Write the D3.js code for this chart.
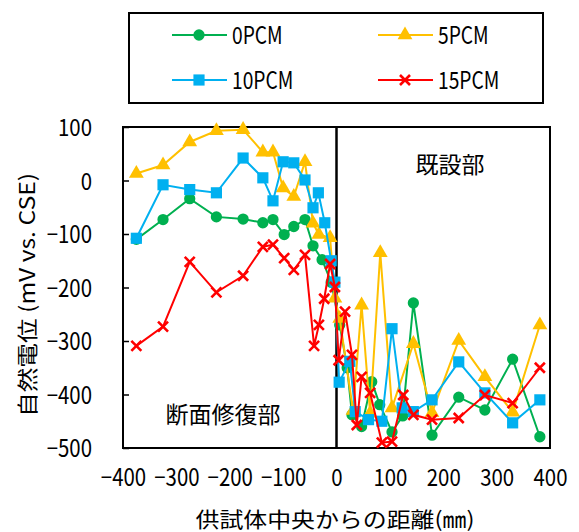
<!DOCTYPE html>
<html>
<head>
<meta charset="utf-8">
<script src="https://cdn.jsdelivr.net/npm/d3@7"></script>
<style>
  body { margin: 0; background: #fff; }
  text { font-family: "Noto Sans CJK JP", "Noto Sans", sans-serif; fill: #000; }
</style>
</head>
<body>
<div id="wrapper"></div>
<script>
// data (distance mm, potential mV)
const seriesNames = ["0PCM", "5PCM", "10PCM", "15PCM"];
const seriesColors = ["#00B050", "#FFC000", "#00B0F0", "#FF0000"];
const seriesMarkers = ["circle", "triangle", "square", "cross"];

const x0 = [-375, -325, -275, -225, -175, -138, -119, -98, -80, -59, -44, -27, -10, 6, 20, 29, 47, 66, 81, 104, 124, 144, 179, 229, 278, 330, 381];
const y0 = [-110, -73, -34, -68, -72, -79, -73, -101, -86, -73, -122, -148, -190, -270, -350, -438, -460, -376, -419, -470, -440, -229, -476, -405, -429, -334, -479];

const x5 = [-375, -325, -275, -225, -175, -138, -119, -100, -80, -59, -44, -33, -12, -3, 6, 31, 47, 63, 82, 104, 144, 179, 229, 278, 330, 381];
const y5 = [13, 29, 72, 93, 95, 53, 53, -14, -30, 35, -80, -101, -107, -220, -258, -430, -233, -435, -135, -425, -305, -434, -299, -367, -433, -270];

const x10 = [-375, -325, -275, -225, -175, -138, -119, -100, -80, -59, -44, -34, -22, -10, -3, 5, 25, 35, 60, 85, 104, 123, 144, 179, 229, 278, 330, 381];
const y10 = [-108, -8, -17, -23, 42, 5, -38, 35, 33, 1, -51, -23, -79, -150, -190, -377, -338, -432, -447, -450, -277, -425, -432, -410, -339, -397, -453, -410];

const x15 = [-375, -325, -275, -225, -175, -138, -119, -98, -80, -59, -42, -33, -23, -12, -3, 4, 16, 29, 38, 47, 63, 85, 104, 125, 144, 179, 229, 278, 330, 381];
const y15 = [-309, -273, -152, -209, -178, -124, -120, -145, -167, -139, -309, -270, -221, -156, -199, -336, -245, -326, -457, -367, -397, -490, -488, -401, -438, -447, -444, -401, -416, -350];

const xTicks = [-400, -300, -200, -100, 0, 100, 200, 300, 400];
const yTicks = [100, 0, -100, -200, -300, -400, -500];

const xData = [x0, x5, x10, x15];
const yData = [y0, y5, y10, y15];

const dim = { width: 579, height: 532, left: 123, right: 550, top: 127, bottom: 448 };

const svg = d3.select("#wrapper").append("svg")
    .attr("width", dim.width)
    .attr("height", dim.height);

const xScaler = d3.scaleLinear().domain([-400, 400]).range([dim.left, dim.right]);
const yScaler = d3.scaleLinear().domain([-500, 100]).range([dim.bottom, dim.top]);

// squeeze text horizontally (narrow gothic look)
function squeeze(sel, k) {
    sel.each(function () {
        const w = this.getComputedTextLength();
        d3.select(this).attr("textLength", w * k).attr("lengthAdjust", "spacingAndGlyphs");
    });
}

// axes
const yAxis = svg.append("g")
    .attr("transform", `translate(${dim.left},0)`)
    .call(d3.axisLeft(yScaler).tickValues(yTicks).tickSizeInner(-6).tickSizeOuter(0).tickPadding(31));
yAxis.select(".domain").remove();
yAxis.selectAll(".tick line").attr("stroke", "#000").attr("stroke-width", 1.5);
yAxis.selectAll("text").attr("font-size", 24).attr("dy", "0.37em").call(squeeze, 0.85);

const xAxis = svg.append("g")
    .attr("transform", `translate(0,${dim.bottom})`)
    .call(d3.axisBottom(xScaler).tickValues(xTicks).tickSize(0).tickPadding(21));
xAxis.select(".domain").remove();
xAxis.selectAll("text").attr("font-size", 24).call(squeeze, 0.85);

// frame and zero line
svg.append("rect")
    .attr("x", dim.left).attr("y", dim.top)
    .attr("width", dim.right - dim.left).attr("height", dim.bottom - dim.top)
    .attr("fill", "none").attr("stroke", "#000").attr("stroke-width", 2);

svg.append("line")
    .attr("x1", xScaler(0)).attr("x2", xScaler(0))
    .attr("y1", dim.top).attr("y2", dim.bottom)
    .attr("stroke", "#000").attr("stroke-width", 2.5);

// markers
function drawMarker(g, type, color) {
    if (type === "cross") {
        g.append("path").attr("d", "M-5,-5L5,5M-5,5L5,-5")
            .attr("stroke", color).attr("stroke-width", 2.6).attr("fill", "none");
    } else {
        const sym = type === "circle" ? d3.symbolCircle : type === "square" ? d3.symbolSquare : d3.symbolTriangle;
        const size = type === "circle" ? 100 : type === "square" ? 125 : 95;
        g.append("path").attr("d", d3.symbol().type(sym).size(size)()).attr("fill", color);
    }
}

const lineGenerator = d3.line()
    .x(d => xScaler(d[0]))
    .y(d => yScaler(d[1]));

seriesNames.forEach((name, i) => {
    const pts = xData[i].map((x, j) => [x, yData[i][j]]);
    const g = svg.append("g");
    g.append("path")
        .attr("d", lineGenerator(pts))
        .attr("fill", "none")
        .attr("stroke", seriesColors[i])
        .attr("stroke-width", 2);
    pts.forEach(p => {
        const m = g.append("g").attr("transform", `translate(${xScaler(p[0])},${yScaler(p[1])})`);
        drawMarker(m, seriesMarkers[i], seriesColors[i]);
    });
});

// region labels
svg.append("text").attr("x", 223).attr("y", 423).attr("text-anchor", "middle")
    .attr("font-size", 23).text("断面修復部");
svg.append("text").attr("x", 450).attr("y", 173).attr("text-anchor", "middle")
    .attr("font-size", 23).text("既設部");

// axis titles
svg.append("text")
    .attr("transform", "translate(35,295) rotate(-90)")
    .attr("text-anchor", "middle")
    .attr("font-size", 21)
    .attr("textLength", 244).attr("lengthAdjust", "spacingAndGlyphs")
    .text("自然電位 (mV vs. CSE)");

svg.append("text")
    .attr("x", 335).attr("y", 527)
    .attr("text-anchor", "middle")
    .attr("font-size", 21)
    .attr("textLength", 279).attr("lengthAdjust", "spacingAndGlyphs")
    .text("供試体中央からの距離(㎜)");

// legend
const legend = svg.append("g");
legend.append("rect")
    .attr("x", 129).attr("y", 13).attr("width", 414).attr("height", 90)
    .attr("fill", "#fff").attr("stroke", "#000").attr("stroke-width", 2);

const legendCols = [172, 378];
const legendRows = [35, 80];
seriesNames.forEach((name, i) => {
    const lx = legendCols[i % 2];
    const ly = legendRows[Math.floor(i / 2)];
    legend.append("line")
        .attr("x1", lx).attr("x2", lx + 55).attr("y1", ly).attr("y2", ly)
        .attr("stroke", seriesColors[i]).attr("stroke-width", 2);
    drawMarker(legend.append("g").attr("transform", `translate(${lx + 27},${ly})`), seriesMarkers[i], seriesColors[i]);
    legend.append("text")
        .attr("x", lx + 60).attr("y", ly + 9)
        .attr("font-size", 24)
        .text(name)
        .call(squeeze, 0.8);
});
</script>
</body>
</html>
